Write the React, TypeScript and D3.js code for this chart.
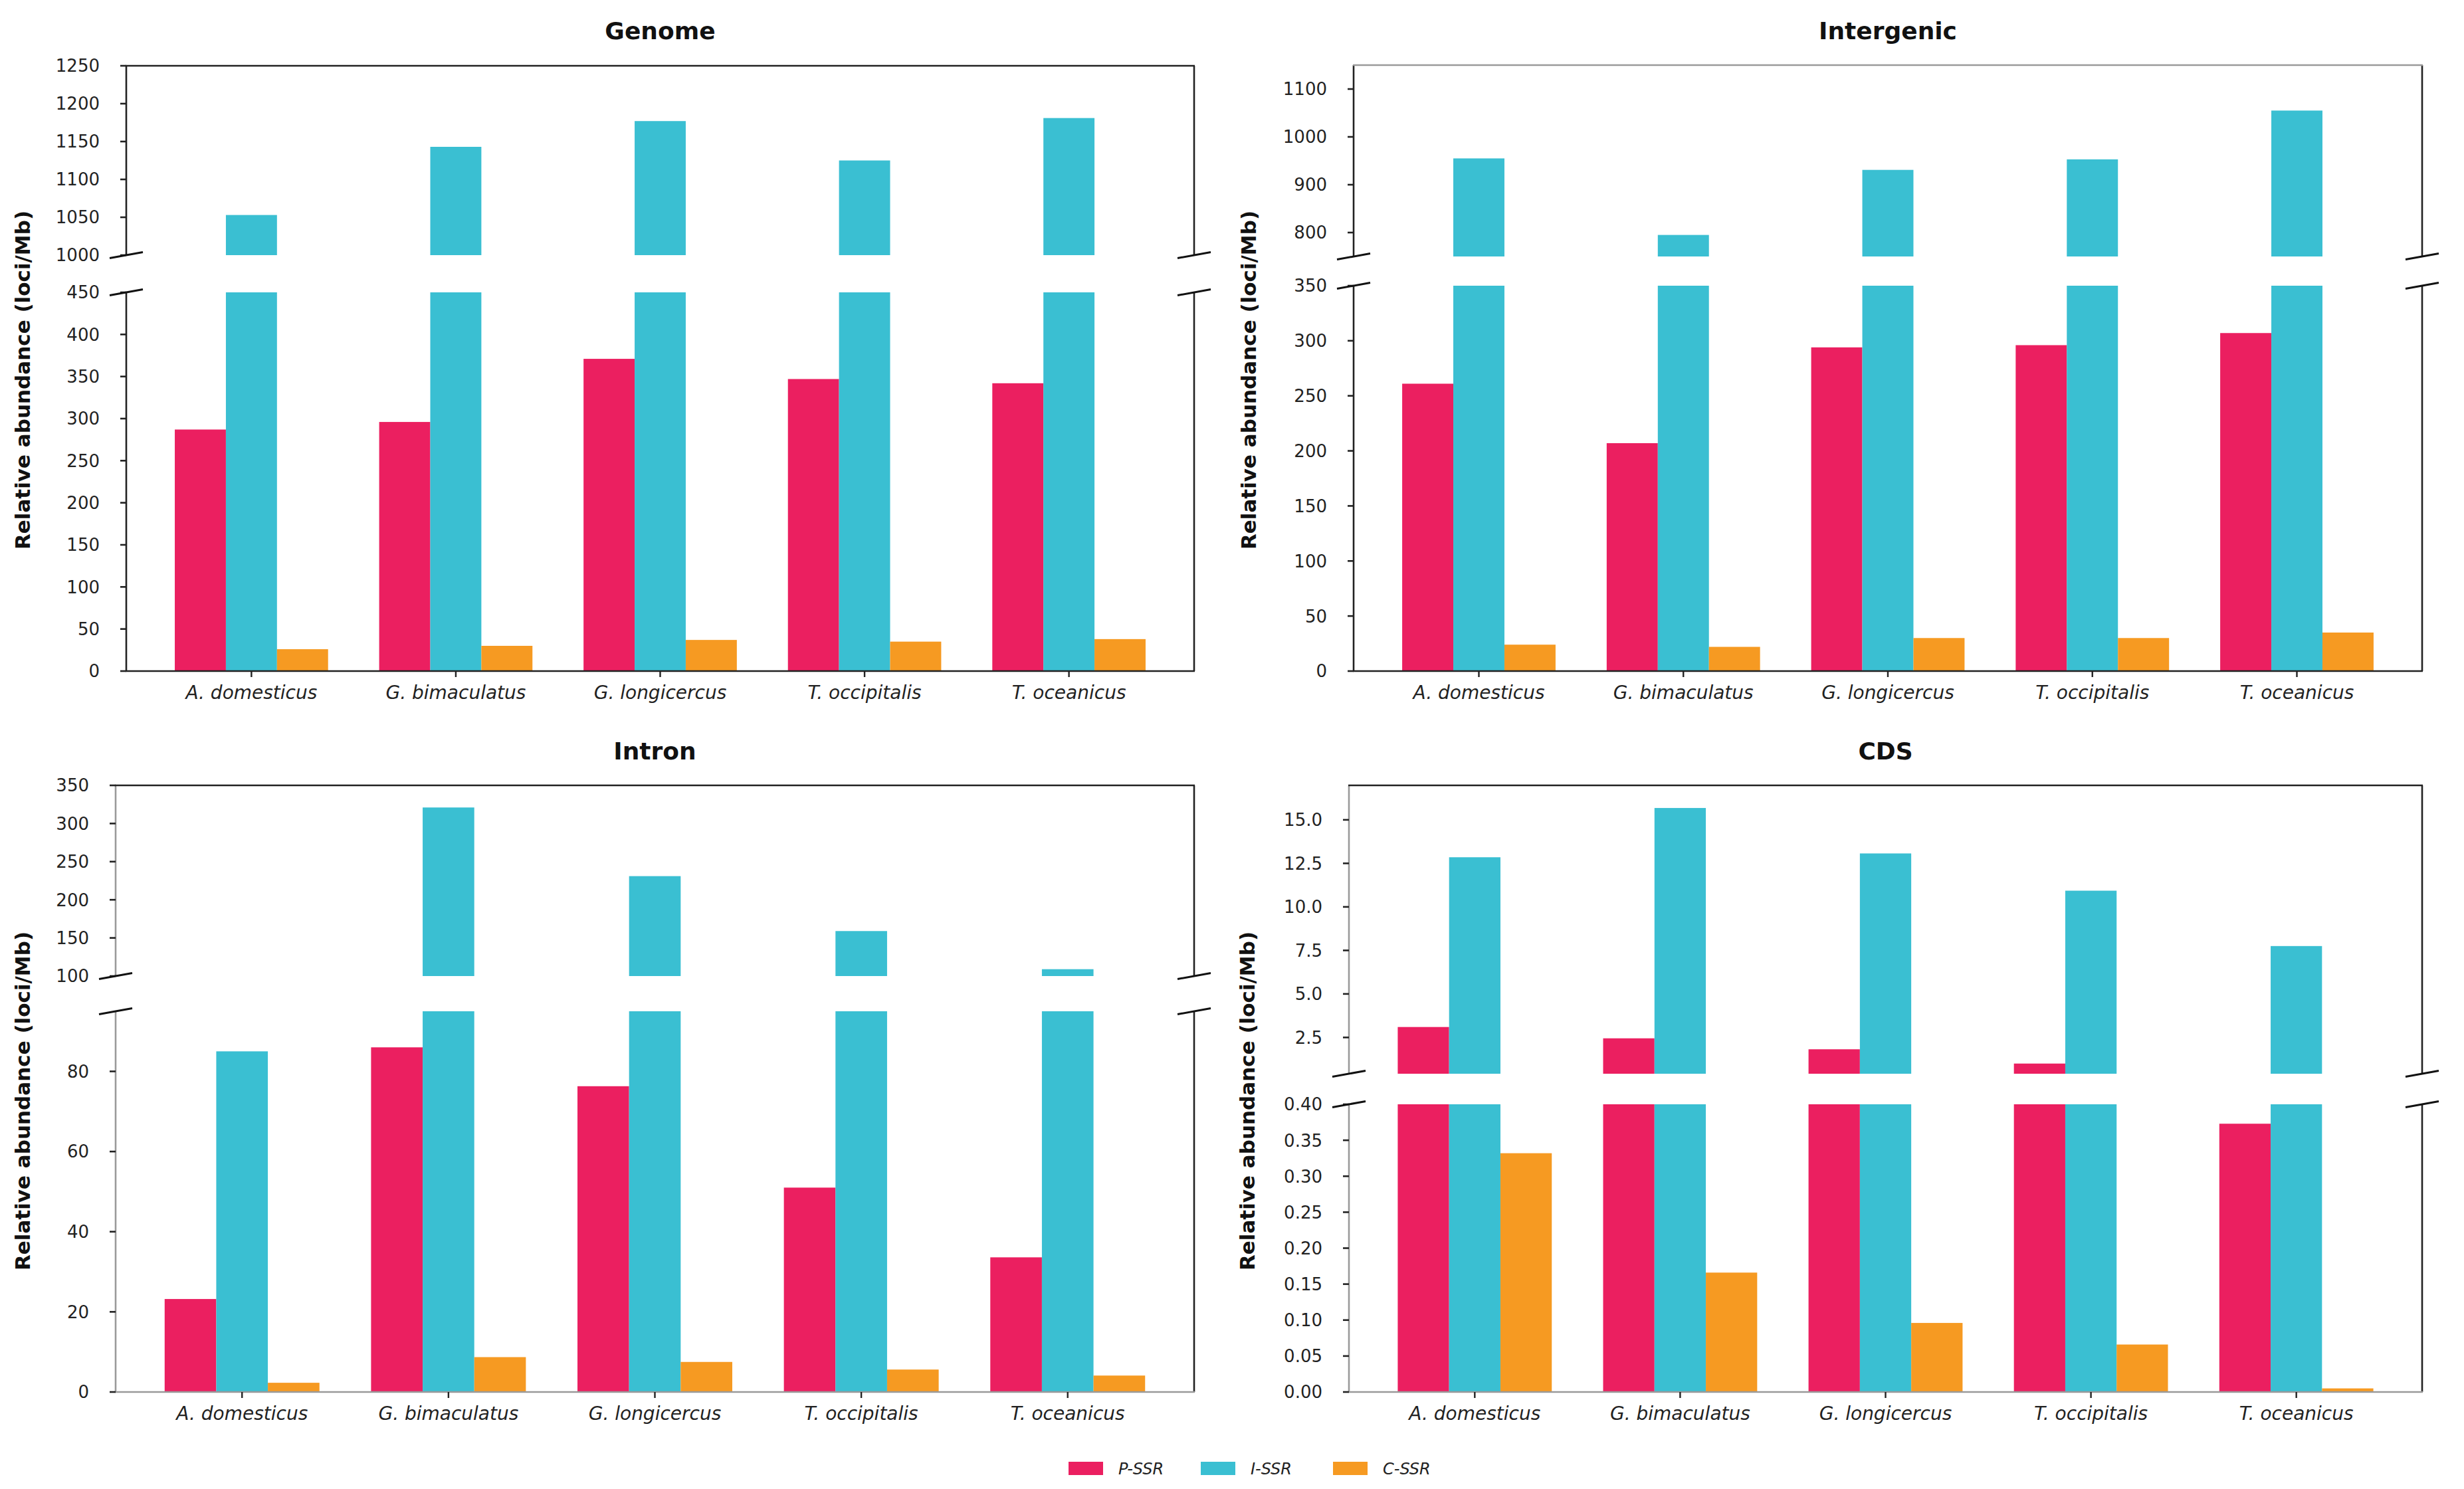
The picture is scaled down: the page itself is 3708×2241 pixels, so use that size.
import React from 'react';
import * as d3 from 'd3';

const species = ['A. domesticus', 'G. bimaculatus', 'G. longicercus', 'T. occipitalis', 'T. oceanicus'];
const seriesNames = ['P-SSR', 'I-SSR', 'C-SSR'];
const colors = ['#EB1F60', '#3ABFD2', '#F69A22'];

// values (loci/Mb)
const genomeP = [287, 296, 371, 347, 342];
const genomeI = [1053, 1143, 1177, 1125, 1181];
const genomeC = [26, 30, 37, 35, 38];

const intergenicP = [261, 207, 294, 296, 307];
const intergenicI = [955, 795, 931, 953, 1055];
const intergenicC = [24, 22, 30, 30, 35];

const intronP = [23.2, 86, 76.3, 51, 33.6];
const intronI = [85, 321, 231, 159, 109];
const intronC = [2.3, 8.7, 7.5, 5.6, 4.1];

const cdsP = [3.1, 2.45, 1.82, 1.0, 0.373];
const cdsI = [12.85, 15.68, 13.07, 10.93, 7.75];
const cdsC = [0.332, 0.166, 0.096, 0.066, 0.005];

const genomeUpperTicks = [1000, 1050, 1100, 1150, 1200, 1250];
const genomeLowerTicks = [0, 50, 100, 150, 200, 250, 300, 350, 400, 450];
const intergenicUpperTicks = [800, 900, 1000, 1100];
const intergenicLowerTicks = [0, 50, 100, 150, 200, 250, 300, 350];
const intronUpperTicks = [100, 150, 200, 250, 300, 350];
const intronLowerTicks = [0, 20, 40, 60, 80];
const cdsUpperTicks = [2.5, 5.0, 7.5, 10.0, 12.5, 15.0];
const cdsLowerTicks = [0, 0.05, 0.1, 0.15, 0.2, 0.25, 0.3, 0.35, 0.4];

const FONT = '"DejaVu Sans", sans-serif';
const DARK = '#222';
const GREY = '#9a9a9a';

const panels = [
  {
    title: 'Genome', series: [genomeP, genomeI, genomeC],
    left: 190, right: 1797, titleY: 59, labelX: 34, labelY: 572,
    upper: { domain: [1000, 1250], range: [384, 99], ticks: genomeUpperTicks, fmt: d3.format('d') },
    lower: { domain: [0, 450], range: [1010, 440], ticks: genomeLowerTicks, fmt: d3.format('d') },
    spine: { top: DARK, left: DARK, bottom: DARK, right: DARK },
  },
  {
    title: 'Intergenic', series: [intergenicP, intergenicI, intergenicC],
    left: 2037, right: 3645, titleY: 59, labelX: 1879, labelY: 572,
    upper: { domain: [750, 1150], range: [386, 98], ticks: intergenicUpperTicks, fmt: d3.format('d') },
    lower: { domain: [0, 350], range: [1010, 430], ticks: intergenicLowerTicks, fmt: d3.format('d') },
    spine: { top: GREY, left: DARK, bottom: DARK, right: DARK },
  },
  {
    title: 'Intron', series: [intronP, intronI, intronC],
    left: 174, right: 1797, titleY: 1143, labelX: 34, labelY: 1657,
    upper: { domain: [100, 350], range: [1469, 1182], ticks: intronUpperTicks, fmt: d3.format('d') },
    lower: { domain: [0, 95], range: [2095, 1522], ticks: intronLowerTicks, fmt: d3.format('d') },
    spine: { top: DARK, left: GREY, bottom: GREY, right: DARK },
  },
  {
    title: 'CDS', series: [cdsP, cdsI, cdsC],
    left: 2030, right: 3645, titleY: 1143, labelX: 1877, labelY: 1657,
    upper: { domain: [0.416, 16.98], range: [1616, 1182], ticks: cdsUpperTicks, fmt: d3.format('.1f') },
    lower: { domain: [0, 0.4], range: [2095, 1662], ticks: cdsLowerTicks, fmt: d3.format('.2f') },
    spine: { top: DARK, left: GREY, bottom: GREY, right: DARK },
  },
];

const barW = 0.25;

function Segment({ p, seg, x, isUpper }: any) {
  const y = d3.scaleLinear().domain(seg.domain).range(seg.range);
  const [d0, d1] = seg.domain;
  const yBottom = seg.range[0];
  const yTop = seg.range[1];
  const sw = 2.6;
  return (
    <g>
      {p.series.map((vals: number[], s: number) =>
        vals.map((v, i) => {
          if (v <= d0) return null;
          const x0 = x(i + (s - 1) * barW - barW / 2);
          const x1 = x(i + (s - 1) * barW + barW / 2);
          const top = y(Math.min(v, d1));
          return <rect key={`${s}-${i}`} x={x0} y={top} width={x1 - x0} height={yBottom - top} fill={colors[s]} />;
        })
      )}
      {/* spines */}
      <line x1={p.left} x2={p.left} y1={yBottom} y2={yTop} stroke={p.spine.left} strokeWidth={sw} />
      <line x1={p.right} x2={p.right} y1={yBottom} y2={yTop} stroke={p.spine.right} strokeWidth={sw} />
      {isUpper ? (
        <line x1={p.left - 1} x2={p.right + 1} y1={yTop} y2={yTop} stroke={p.spine.top} strokeWidth={sw} />
      ) : (
        <line x1={p.left - 1} x2={p.right + 1} y1={yBottom} y2={yBottom} stroke={p.spine.bottom} strokeWidth={sw} />
      )}
      {/* y ticks */}
      {seg.ticks.map((t: number) => (
        <g key={t} transform={`translate(0,${y(t)})`}>
          <line x1={p.left - 9} x2={p.left} stroke={DARK} strokeWidth={2.6} />
          <text x={p.left - 40} dy="0.36em" textAnchor="end" fontSize={26} fontFamily={FONT} fill={DARK}>
            {seg.fmt(t)}
          </text>
        </g>
      ))}
      {/* break marks */}
      {[p.left, p.right].map((bx: number) => {
        const by = isUpper ? yBottom : yTop;
        return <line key={bx} x1={bx - 25} y1={by + 4.5} x2={bx + 25} y2={by - 4.5} stroke="#111" strokeWidth={3} />;
      })}
    </g>
  );
}

function Panel({ p }: any) {
  const x = d3.scaleLinear().domain([-0.6125, 4.6125]).range([p.left, p.right]);
  const yBase = p.lower.range[0];
  return (
    <g>
      <text x={(p.left + p.right) / 2} y={p.titleY} textAnchor="middle" fontSize={36} fontWeight="bold" fontFamily={FONT} fill="#111">
        {p.title}
      </text>
      <Segment p={p} seg={p.upper} x={x} isUpper={true} />
      <Segment p={p} seg={p.lower} x={x} isUpper={false} />
      {species.map((sp, i) => (
        <g key={sp} transform={`translate(${x(i)},${yBase})`}>
          <line y1={0} y2={9} stroke={DARK} strokeWidth={2.4} />
          <text y={42} textAnchor="middle" fontSize={28} fontStyle="italic" fontFamily={FONT} fill={DARK}>
            {sp}
          </text>
        </g>
      ))}
      <text transform={`translate(${p.labelX},${p.labelY}) rotate(-90)`} textAnchor="middle" dy="0.35em"
        fontSize={31} fontWeight="bold" fontFamily={FONT} fill="#111">
        Relative abundance (loci/Mb)
      </text>
    </g>
  );
}

export default function App() {
  const legendX = d3.scaleLinear().domain([0, 1]).range([1608, 1807]);
  return (
    <div style={{ position: 'absolute', left: 0, top: 0 }}>
      <svg width={3708} height={2241} style={{ display: 'block', background: '#fff' }}>
        <rect width={3708} height={2241} fill="#fff" />
        {panels.map((p) => <Panel key={p.title} p={p} />)}
        {seriesNames.map((name, i) => (
          <g key={name} transform={`translate(${legendX(i)},2200)`}>
            <rect width={52} height={20} fill={colors[i]} />
            <text x={75} y={19} fontSize={24} fontStyle="italic" fontFamily={FONT} fill={DARK}>{name}</text>
          </g>
        ))}
      </svg>
    </div>
  );
}
